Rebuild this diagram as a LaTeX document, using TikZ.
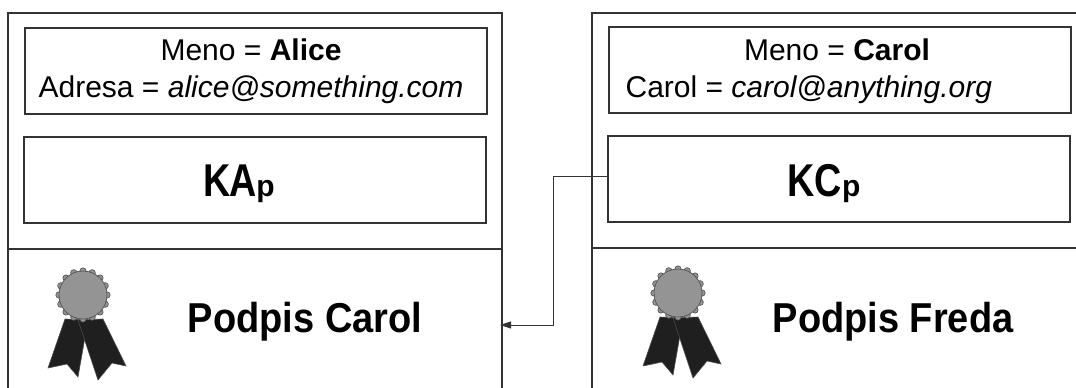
\documentclass[tikz,border=0pt]{standalone}
\usepackage{fontspec}
\setmainfont{Liberation Sans}
\usetikzlibrary{calc,arrows.meta,positioning}

\colorlet{ciara}{black!80}
\colorlet{sivy}{black!42}
\colorlet{stuha}{black!88}

% pecat: stuha a medaila okolo stredu #1
\newcommand{\pecat}[1]{%
    \begin{scope}[shift={(#1)}, line width=0.6pt, draw=black!70]
        \filldraw[fill=stuha] (-18,24) -- (5,25) -- (-5,82) -- (-16,69) -- (-35,73) -- cycle;
        \filldraw[fill=stuha] (-5,25) -- (20,24) -- (43,71) -- (29,68) -- (15,85) -- cycle;
        \foreach \a in {0,22.5,...,337.5}
            \filldraw[fill=sivy] (\a:24) circle (3.2);
        \filldraw[fill=sivy] (0,0) circle (24);
    \end{scope}}

\begin{document}
\begin{tikzpicture}[x=1pt, y=-1pt, line width=1.2pt,
        pole/.style={draw=ciara, minimum width=462pt, minimum height=86pt, inner sep=0pt},
        riadok/.style={font=\fontsize{30}{36}\selectfont, anchor=base, inner sep=0pt},
        kluc/.style={font=\fontsize{46}{46}\selectfont\bfseries, anchor=base, inner sep=0pt},
        podpis/.style={font=\fontsize{38}{40}\selectfont\bfseries, anchor=base, inner sep=0pt},
        spoj/.style={draw=ciara, line width=0.9pt, -{Triangle[length=11pt,width=7pt]}}]
        \useasboundingbox (0,0) rectangle (1076,388);

        % ramy certifikatov
        \draw[ciara] (8,400) -- (8,13) -- (502,13) -- (502,400);
        \draw[ciara] (8,249) -- (502,249);
        \draw[ciara] (592,400) -- (592,13) -- (1090,13);
        \draw[ciara] (592,248) -- (1090,248);

        \node[pole] (udajeA) at (256,71) {};
        \node[pole] (klucA) at (255,180) {};
        \node[pole] (udajeC) at (840,70) {};
        \node[pole] (klucC) at (839,179) {};

        \node[riadok] (menoA) at (251,60) {Meno = \textbf{Alice}};
        \node[riadok, anchor=base west] (adresaA) at (38,97) {Adresa = \textit{alice@something.com}};
        \node[riadok] (menoC) at (837,60) {Meno = \textbf{Carol}};
        \node[riadok, anchor=base west] (adresaC) at (625,97) {Carol = \textit{carol@anything.org}};

        \node[kluc, anchor=base west] (kA) at (203,196) {\scalebox{0.82}[1]{K\kern-2pt A}{\fontsize{30}{30}\selectfont p}};
        \node[kluc, anchor=base west] (kC) at (787,196) {\scalebox{0.82}[1]{KC}{\fontsize{30}{30}\selectfont p}};

        \pecat{83,295}
        \pecat{678,293}
        \node[podpis] (podpisA) at (305,332) {\scalebox{1}[1.1]{Podpis Carol}};
        \node[podpis] (podpisC) at (893,332) {\scalebox{1}[1.1]{Podpis Freda}};

        \coordinate (cil) at (500,325);
        \draw[spoj] ($(klucC.west)+(0,-3)$) -- ++(-54,0) |- (cil);
\end{tikzpicture}
\end{document}
